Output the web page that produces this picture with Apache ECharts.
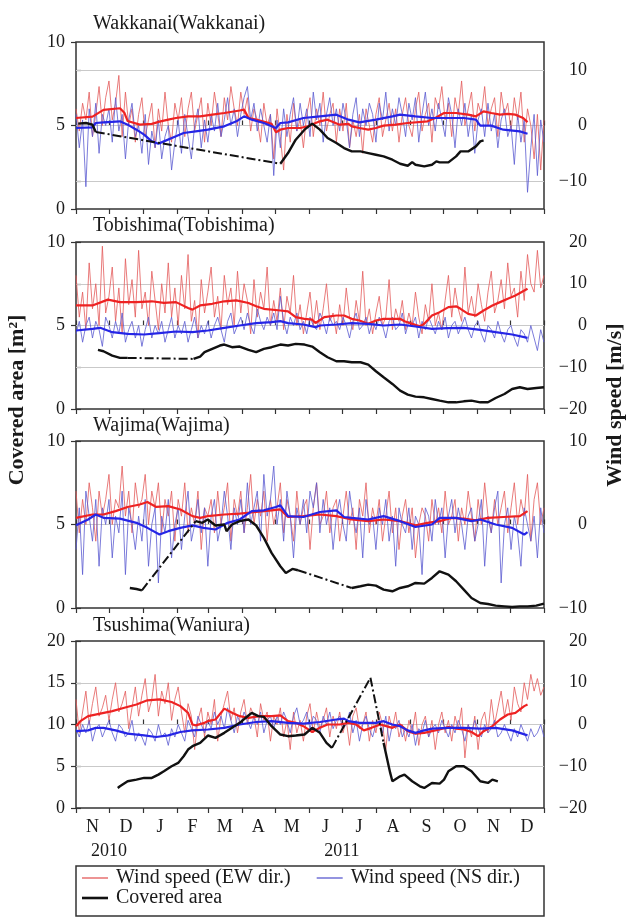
<!DOCTYPE html>
<html>
<head>
<meta charset="utf-8">
<script src="https://cdn.jsdelivr.net/npm/echarts@6/dist/echarts.min.js"></script>
<style>
html,body{margin:0;padding:0;background:#fff;}
#chart{width:627px;height:918px;}
</style>
</head>
<body>
<div id="chart"></div>
<script>
// ---------------- DATA ----------------
// day 0 = 2010-11-01, axis ends at day 426 = 2012-01-01
const monthStartDays = [0, 30, 61, 92, 120, 151, 181, 212, 242, 273, 304, 334, 365, 395, 426];
const monthLetters = ['N', 'D', 'J', 'F', 'M', 'A', 'M', 'J', 'J', 'A', 'S', 'O', 'N', 'D'];
const yearLabels = ['2010', '2011'];
const yearLabelDays = [30, 242];

const stationNames = ['Wakkanai(Wakkanai)', 'Tobishima(Tobishima)', 'Wajima(Wajima)', 'Tsushima(Waniura)'];
const legendNames = ['Wind speed (EW dir.)', 'Wind speed (NS dir.)', 'Covered area'];

const leftAxisMax = [10, 10, 10, 20];
const leftAxisInterval = 5;
const rightAxisRange = [[-15, 15], [-20, 20], [-10, 10], [-20, 20]];
const rightAxisTicks = [[-10, 0, 10], [-20, -10, 0, 10, 20], [-10, 0, 10], [-20, -10, 0, 10, 20]];
const gridLineValues = [[-10, 0, 10], [-10, 0, 10], [0], [-10, 0, 10]];

// daily wind samples, one value every DAILY_STEP days from day 0 (m/s)
const DAILY_STEP = 3;

const wakkanaiEWDaily = [3,-1,4,1,6,-2,2,7,0,5, 8,1,4,9,-2,6,0,3,-3,2, 5,-2,1,4,-4,3,-1,6,0,-3, 4,1,5,-2,3,6,-1,2,5,-3,
 4,0,6,2,-2,5,1,7,3,0, 6,2,5,-1,3,1,-3,4,0,2, -6,3,-2,-8,2,-3,4,-1,1,-4, 2,5,-2,3,0,6,-1,2,4,-3,
 3,-1,4,-4,1,-2,2,-5,3,0, -3,2,5,-2,1,4,-1,3,-3,2, 5,0,-2,3,6,-1,2,4,-3,5, 3,7,1,4,-2,5,2,8,0,3,
 6,-1,4,2,7,0,3,5,-2,6, 2,4,-1,5,1,6,-3,3,0,-6, 2,-8,1];
const wakkanaiNSDaily = [2,-4,1,-11,3,-2,4,-5,2,0, 3,-3,5,-1,2,-6,1,4,-2,0, -5,2,-7,-1,-4,1,-6,-2,0,-8, -3,1,-5,2,-2,-6,0,3,-4,1,
 -3,2,-1,4,-2,1,5,0,3,-2, 2,5,7,1,4,-1,3,0,-3,2, -9,1,-4,3,-2,2,5,-1,4,0, 3,-2,6,1,4,-3,2,5,0,3,
 -1,4,1,-4,2,5,-2,3,0,4, 2,-3,4,1,6,-1,3,0,5,2, -2,4,1,5,-3,2,6,0,3,-1, 4,1,-2,5,2,-4,3,0,4,-2,
 2,-5,1,3,-2,4,-1,2,-4,1, 3,-2,0,-7,2,-3,1,-12,-4,2, -9,1,-3];

const tobishimaEWDaily = [12,2,8,-1,15,4,10,0,19,3, 7,14,1,9,-2,16,5,11,2,18, 4,8,0,13,6,-1,10,3,15,2, 9,0,12,4,17,1,6,-3,11,3,
 8,14,2,7,-1,12,5,9,0,13, 3,10,6,-2,11,2,8,4,14,0, 6,1,9,-1,7,3,12,0,5,-2, 3,8,0,6,-1,4,10,1,3,-2,
 5,0,9,2,-1,6,1,13,0,4, -2,3,7,0,2,11,-1,4,1,6, -1,3,0,8,2,-2,5,1,10,0, 3,-1,6,12,2,9,4,1,14,3,
 7,2,10,5,1,8,13,3,6,11, 4,15,7,9,2,13,6,17,10,8, 18,9,12];
const tobishimaNSDaily = [-2,1,-4,0,2,-3,1,-1,-5,2, 0,-3,1,-2,3,-4,-1,1,-3,0, -5,-1,2,-3,0,-2,1,-4,-1,2, -3,0,-2,1,-4,-1,2,-3,0,-2,
 1,-3,0,2,-1,-4,1,3,-2,0, 2,-1,3,0,-2,4,1,-1,2,0, 3,-1,7,1,-2,2,0,3,-1,1, -2,2,0,-1,3,1,-2,2,0,1,
 -1,2,0,-3,1,3,-1,0,2,-2, 1,-1,2,0,-3,1,2,-1,0,3, -2,1,0,2,-3,1,-1,2,0,-2, 1,-1,2,-3,0,1,-2,0,2,-1,
 -3,0,1,-2,-4,0,-1,-3,1,-2, -4,-1,0,-3,-5,-1,-2,-4,0,-3, -6,-1,-4];

const wajimaEWDaily = [4,-1,3,0,5,2,-2,4,1,3, 6,0,3,2,7,1,4,-1,5,2, 3,6,0,4,2,5,-1,3,1,4, -2,3,1,5,-1,2,0,4,-3,2,
 1,3,-1,4,0,2,5,-2,3,1, 4,-1,2,6,0,3,1,4,-2,3, 0,2,5,-1,3,1,-2,4,0,2, 3,-3,2,5,0,1,4,-1,2,3,
 -2,1,4,0,2,-3,3,1,5,-1, 2,0,3,-2,1,4,-1,2,-3,1, 3,-1,2,-4,0,2,1,-2,3,0, 2,-1,4,0,1,3,-2,2,0,4,
 1,-2,3,0,5,1,-1,3,0,2, 4,-1,2,5,0,3,1,6,-2,3, 5,0,2];
const wajimaNSDaily = [-3,2,-6,4,1,-2,3,-5,2,0, 3,-4,1,-1,4,-6,2,0,-3,1, -2,3,-5,0,2,-7,1,-1,3,-4, 0,2,-3,1,4,-2,0,3,-1,2,
 -5,1,3,-2,0,4,1,-3,2,0, 3,-1,5,0,2,4,-2,6,1,3, 7,0,3,-2,4,1,-4,2,0,3, -1,4,2,5,-1,3,0,2,-3,1,
 3,0,-2,4,1,-1,2,-4,3,0, 1,-3,2,0,3,-2,1,-5,2,0, -1,2,-3,1,0,-6,2,1,-2,3, 0,2,-4,1,3,-1,2,0,-3,1,
 2,-2,0,3,-5,1,-1,2,4,-7, 0,2,-3,1,-1,-5,2,0,-2,1, -4,2,-1];

const tsushimaEWDaily = [6,-2,3,8,0,5,9,2,4,7, 1,6,10,3,5,8,-1,4,9,2, 7,11,3,6,12,2,8,5,10,1, 6,9,3,-2,5,2,-6,1,4,-3,
 3,0,6,-4,2,5,8,1,4,-2, 3,6,0,4,2,-3,5,1,3,-4, 2,0,4,-3,1,-6,3,-2,1,-4, 2,5,-2,3,-1,1,4,-3,2,-1,
 3,-2,1,-5,2,4,-1,0,3,-4, 1,-2,3,0,-6,2,-1,3,-3,0, -4,1,-2,3,-5,0,2,-3,1,-6, 0,3,-2,1,-4,2,-1,4,-8,0,
 -3,2,-6,1,3,-2,6,0,4,8, 2,6,1,9,5,3,10,6,12,8, 11,7,9];
const tsushimaNSDaily = [-1,-3,0,-2,1,-4,-1,0,-3,-1, 1,-2,-4,0,-1,-3,-2,1,-4,-2, -3,-5,-1,-2,-4,0,-3,-2,-5,-1, -3,0,-2,-4,1,-1,-3,2,0,-2,
 1,-1,3,0,2,-1,4,1,-2,2, 0,3,1,-1,2,0,3,-2,1,2, -1,2,0,3,1,-2,2,4,0,1, 3,-1,2,1,-2,2,0,3,-1,1,
 2,-1,0,3,-2,1,-4,0,2,-1, -3,0,1,-2,2,-4,0,-1,1,-3, -1,-3,0,-5,-1,-2,1,-3,-1,0, -2,1,-1,-3,0,-2,1,-1,-4,0,
 -2,1,-1,-3,0,-2,-1,1,-3,-2, 0,-2,-4,-1,-3,0,-2,-4,-1,-3, -2,0,-3];

// running means [day, m/s]
const wakkanaiEWMean = [[0,1.35],[15,1.6],[25,2.8],[40,3.1],[44,2.3],[47,0.8],[58,0.15],[69,0.3],[76,0.7],[84,1.05],[91,1.35],[102,1.65],[113,1.65],[124,1.95],[135,2.25],[149,2.7],[153,2.85],[157,1.35],[164,1.05],[178,0.3],[182,-1.2],[186,-0.75],[193,-0.45],[204,-0.45],[211,-0.15],[222,0.75],[229,1.05],[240,0.15],[248,0.3],[251,-0.15],[258,-0.45],[266,-0.75],[273,-0.45],[280,-0.03],[291,0.15],[302,0.45],[320,0.75],[327,1.35],[335,2.25],[346,2.25],[357,1.95],[364,1.65],[371,2.55],[378,2.25],[386,1.95],[393,2.1],[400,1.95],[407,1.35],[411,0.6]];
const wakkanaiNSMean = [[0,-0.45],[15,-0.33],[18,0.45],[25,0.57],[40,0.75],[47,0.15],[55,-0.75],[62,-1.65],[69,-2.85],[75,-3.27],[80,-2.85],[91,-1.95],[98,-1.35],[109,-1.05],[120,-0.75],[135,-0.15],[146,0.75],[153,1.65],[160,1.05],[171,0.45],[182,-0.45],[186,0.45],[193,0.57],[207,1.35],[222,1.65],[237,1.95],[248,1.05],[258,0.57],[273,1.05],[288,1.65],[295,1.95],[309,1.65],[324,1.35],[338,1.35],[353,1.35],[364,1.05],[368,-0.03],[378,-0.03],[389,-0.75],[404,-1.05],[411,-1.47]];

const tobishimaEWMean = [[0,4.8],[15,4.8],[29,6.2],[40,5.6],[55,5.6],[69,5.8],[80,5.4],[91,5.6],[102,4.2],[106,3.8],[113,4.8],[124,5.2],[135,5.8],[146,6.0],[157,5.4],[164,4.6],[171,4.0],[186,3.6],[193,3.4],[200,2.0],[208,1.6],[215,1.4],[218,0.6],[226,2.0],[237,2.4],[244,2.4],[251,1.6],[258,1.2],[266,0.4],[273,1.2],[280,1.6],[295,1.6],[299,1.0],[306,0.4],[313,-0.2],[317,0.4],[324,2.4],[331,3.2],[339,4.4],[346,4.6],[350,4.0],[357,2.8],[364,2.4],[371,3.6],[379,4.8],[386,5.6],[393,6.4],[400,7.2],[411,8.8]];
const tobishimaNSMean = [[0,-1.2],[15,-0.8],[22,-0.56],[33,-1.6],[47,-2.0],[62,-2.16],[76,-1.84],[91,-1.44],[106,-1.6],[120,-1.2],[135,-0.56],[149,0.0],[164,0.56],[178,0.8],[186,1.04],[193,0.56],[207,0.24],[218,-0.4],[222,0.0],[237,0.24],[251,0.56],[266,0.4],[280,0.0],[295,0.24],[309,-0.24],[324,-0.8],[338,-0.64],[353,-0.56],[368,-1.04],[382,-1.6],[397,-2.16],[411,-2.96]];

const wajimaEWMean = [[0,0.8],[15,1.2],[25,1.2],[36,1.6],[47,2.1],[58,2.4],[65,2.7],[73,2.1],[84,2.2],[95,1.8],[106,1.0],[113,0.8],[120,1.0],[135,1.2],[149,1.3],[164,1.5],[178,1.7],[186,1.8],[193,0.9],[207,1.0],[222,1.2],[237,1.0],[251,0.6],[266,0.4],[280,0.6],[295,0.4],[309,-0.1],[320,0.2],[331,0.4],[342,0.8],[353,0.7],[364,0.5],[375,0.8],[389,0.9],[404,1.0],[411,1.6]];
const wajimaNSMean = [[0,-0.1],[11,0.6],[18,1.2],[25,0.8],[40,0.7],[55,0.2],[65,-0.4],[76,-1.2],[84,-0.8],[95,-0.4],[106,-0.1],[116,-0.4],[127,-0.6],[138,0.2],[149,0.6],[160,1.6],[171,1.7],[182,2.1],[186,2.3],[193,1.0],[207,0.9],[222,1.5],[237,1.7],[244,0.9],[251,0.8],[266,0.6],[280,1.0],[295,0.4],[309,-0.3],[324,0.0],[331,0.8],[346,0.8],[360,0.4],[368,0.6],[382,0.0],[397,-0.4],[408,-1.2],[411,-0.9]];

const tsushimaEWMean = [[0,-0.4],[4,0.8],[11,2.0],[22,2.6],[33,3.2],[44,4.0],[55,4.8],[65,5.8],[76,6.0],[87,5.4],[95,4.4],[102,2.8],[106,0.0],[109,-0.2],[117,0.4],[120,0.8],[127,1.2],[135,3.8],[142,2.8],[149,2.0],[157,1.6],[167,2.0],[178,2.0],[186,2.2],[193,0.8],[200,0.4],[207,-0.4],[215,-1.8],[222,-0.8],[229,0.0],[240,0.0],[248,0.4],[255,0.0],[262,-1.4],[269,-0.8],[277,0.0],[288,-0.8],[295,0.0],[302,-1.6],[309,-2.2],[317,-2.0],[324,-1.6],[331,-1.2],[339,-0.6],[346,-1.0],[353,-1.2],[360,-1.8],[366,-2.8],[371,-1.6],[379,-0.4],[386,1.2],[393,2.4],[400,2.8],[408,4.4],[411,4.8]];
const tsushimaNSMean = [[0,-1.6],[11,-1.4],[18,-0.8],[25,-0.8],[36,-1.4],[47,-2.2],[62,-2.6],[73,-3.0],[84,-2.6],[95,-1.8],[106,-1.4],[120,-1.2],[135,-0.8],[149,0.0],[164,0.6],[178,0.8],[193,0.4],[207,0.2],[222,0.6],[237,1.2],[244,1.4],[248,0.8],[258,0.4],[273,0.4],[280,0.8],[288,0.0],[295,-0.4],[302,-1.4],[309,-2.0],[317,-1.4],[324,-1.0],[339,-0.8],[353,-0.8],[368,-1.0],[382,-0.8],[397,-1.4],[404,-2.0],[411,-2.6]];

// covered area [day, m^2]; null = no observation (bridged with dash-dot line)
const wakkanaiArea = [[2,5.11],[9,5.15],[15,5.05],[18,4.61],null,[186,2.71],[193,3.35],[200,4.15],[208,4.75],[215,5.11],[222,4.75],[229,4.25],[237,3.95],[244,3.65],[251,3.45],[259,3.45],[266,3.35],[273,3.25],[280,3.15],[288,2.95],[295,2.71],[302,2.59],[306,2.81],[309,2.65],[317,2.55],[324,2.65],[328,2.85],[331,2.79],[339,2.79],[346,3.15],[350,3.45],[357,3.45],[364,3.75],[368,4.05],[371,4.11]];
const tobishimaArea = [[20,3.54],[25,3.46],[33,3.2],[40,3.06],[47,3.06],null,[107,3.0],[113,3.14],[117,3.4],[124,3.6],[131,3.8],[135,3.86],[142,3.7],[149,3.74],[157,3.54],[164,3.4],[171,3.6],[178,3.7],[186,3.86],[193,3.8],[200,3.9],[208,3.86],[215,3.74],[222,3.4],[229,3.1],[237,2.86],[244,2.86],[251,2.8],[259,2.8],[266,2.66],[273,2.26],[280,1.9],[288,1.5],[295,1.1],[302,0.86],[309,0.74],[317,0.7],[324,0.6],[331,0.5],[339,0.4],[346,0.4],[353,0.46],[360,0.5],[368,0.4],[375,0.4],[382,0.66],[390,0.9],[397,1.2],[404,1.3],[411,1.2],[419,1.26],[426,1.3]];
const wajimaArea = [[49,1.2],[55,1.14],[60,1.06],null,[109,5.2],[115,5.1],[120,5.3],[127,4.94],[135,5.0],[137,4.6],[142,5.0],[149,5.2],[157,5.3],[164,4.94],[171,4.2],[178,3.3],[186,2.5],[191,2.1],[197,2.34],[202,2.26],null,[251,1.2],[259,1.3],[266,1.4],[273,1.34],[280,1.1],[288,1.0],[295,1.2],[302,1.3],[309,1.5],[317,1.46],[324,1.8],[331,2.2],[339,2.0],[346,1.6],[353,1.1],[360,0.6],[368,0.3],[375,0.24],[382,0.14],[390,0.1],[397,0.06],[404,0.1],[411,0.1],[419,0.14],[426,0.26]];
const tsushimaArea = [[38,2.4],[40,2.6],[47,3.2],[55,3.4],[62,3.6],[69,3.6],[75,4.0],[80,4.4],[87,5.0],[93,5.4],[98,6.2],[102,7.0],[106,7.4],[113,7.8],[120,8.68],[127,8.4],[135,9.0],[142,9.6],[149,10.2],[157,11.08],[160,11.4],[166,11.0],[171,10.92],[178,9.8],[186,8.8],[193,8.6],[200,8.68],[208,8.8],[215,9.6],[222,9.0],[228,7.8],[233,7.2],null,[268,15.6],null,[280,7.8],[286,4.2],[288,3.2],[295,3.8],[299,4.0],[306,3.2],[313,2.6],[317,2.4],[324,3.0],[331,2.92],[335,3.4],[339,4.4],[346,5.0],[353,5.0],[360,4.4],[368,3.2],[375,3.0],[379,3.4],[384,3.2]];

// ---------------- STYLE / LAYOUT ----------------
const FONT = '"Liberation Serif", "Times New Roman", serif';
const TXT = '#1a1a1a';
const FRAME = '#333';
const THIN_RED = '#e35a5a', THIN_BLUE = '#5a5ad0';
const RED = '#ee2222', BLUE = '#2525e6', BLACK = '#111';
const GRID_TOPS = [42, 242, 441, 641];
const GRID_H = 167, GRID_L = 76, GRID_W = 468;
const TITLE_CENTERS = [24, 226, 426, 626];

const panels = [
  {ew: wakkanaiEWDaily, ns: wakkanaiNSDaily, ewm: wakkanaiEWMean, nsm: wakkanaiNSMean, area: wakkanaiArea},
  {ew: tobishimaEWDaily, ns: tobishimaNSDaily, ewm: tobishimaEWMean, nsm: tobishimaNSMean, area: tobishimaArea},
  {ew: wajimaEWDaily, ns: wajimaNSDaily, ewm: wajimaEWMean, nsm: wajimaNSMean, area: wajimaArea},
  {ew: tsushimaEWDaily, ns: tsushimaNSDaily, ewm: tsushimaEWMean, nsm: tsushimaNSMean, area: tsushimaArea}
];

function dailyPairs(arr) { return arr.map((v, i) => [i * DAILY_STEP, v]); }
function solidPairs(arr) {
  return arr.map((p, i) => p ? p : [(arr[i - 1][0] + arr[i + 1][0]) / 2, '-']);
}
function gapPairs(arr) {
  const out = [];
  arr.forEach((p, i) => {
    if (!p) { out.push(arr[i - 1], arr[i + 1], [(arr[i - 1][0] + arr[i + 1][0]) / 2, '-']); }
  });
  return out;
}
const minusFmt = v => (v < 0 ? '\u2212' + Math.abs(v) : String(v));

const monthLabelDays = monthLetters.map((m, i) => (monthStartDays[i] + monthStartDays[i + 1]) / 2);
const monthLabelMap = {};
monthLabelDays.forEach((d, i) => { monthLabelMap[d] = monthLetters[i]; });

const grids = [], xAxes = [], yAxes = [], series = [], titles = [];
panels.forEach((p, k) => {
  grids.push({left: GRID_L, top: GRID_TOPS[k], width: GRID_W, height: GRID_H, show: true,
    borderColor: FRAME, borderWidth: 1.5, backgroundColor: 'transparent', containLabel: false});
  const isLast = k === panels.length - 1;
  const tickCommon = {show: true, customValues: monthStartDays, length: 5, inside: false, lineStyle: {color: FRAME, width: 1.2}};
  xAxes.push({type: 'value', gridIndex: k, position: 'bottom', min: 0, max: 426,
    axisLine: {show: false}, splitLine: {show: false}, axisTick: tickCommon,
    axisLabel: isLast ? {show: true, customValues: monthLabelDays, formatter: v => monthLabelMap[v] || '',
      fontFamily: FONT, fontSize: 18, color: TXT, margin: 10} : {show: false}});
  xAxes.push({type: 'value', gridIndex: k, position: 'top', min: 0, max: 426,
    axisLine: {show: false}, splitLine: {show: false}, axisTick: tickCommon, axisLabel: {show: false}});
  yAxes.push({type: 'value', gridIndex: k, position: 'left', min: 0, max: leftAxisMax[k], interval: leftAxisInterval,
    axisLine: {show: false}, splitLine: {show: false},
    axisTick: {show: true, length: 5, lineStyle: {color: FRAME, width: 1.2}},
    axisLabel: {fontFamily: FONT, fontSize: 18, color: TXT, margin: 11}});
  yAxes.push({type: 'value', gridIndex: k, position: 'right', min: rightAxisRange[k][0], max: rightAxisRange[k][1],
    axisLine: {show: false}, splitLine: {show: false},
    axisTick: {show: true, customValues: rightAxisTicks[k], length: 5, lineStyle: {color: FRAME, width: 1.2}},
    axisLabel: {customValues: rightAxisTicks[k], formatter: minusFmt, fontFamily: FONT, fontSize: 18, color: TXT,
      margin: 43, align: 'right'}});

  const xi = 2 * k, yl = 2 * k, yr = 2 * k + 1;
  series.push({name: legendNames[0], type: 'line', xAxisIndex: xi, yAxisIndex: yr, data: dailyPairs(p.ew),
    symbol: 'none', lineStyle: {color: THIN_RED, width: 0.8}, itemStyle: {color: THIN_RED}, z: 2, silent: true,
    markLine: {silent: true, z: 1, symbol: ['none', 'none'], label: {show: false},
      lineStyle: {color: '#c9c9c9', width: 1, type: 'solid'}, emphasis: {disabled: true},
      data: gridLineValues[k].map(v => ({yAxis: v}))}});
  series.push({name: legendNames[1], type: 'line', xAxisIndex: xi, yAxisIndex: yr, data: dailyPairs(p.ns),
    symbol: 'none', lineStyle: {color: THIN_BLUE, width: 0.8}, itemStyle: {color: THIN_BLUE}, z: 2, silent: true});
  series.push({name: 'EW mean', type: 'line', xAxisIndex: xi, yAxisIndex: yr, data: p.ewm,
    symbol: 'none', lineStyle: {color: RED, width: 2.2}, z: 3, silent: true});
  series.push({name: 'NS mean', type: 'line', xAxisIndex: xi, yAxisIndex: yr, data: p.nsm,
    symbol: 'none', lineStyle: {color: BLUE, width: 2.2}, z: 3, silent: true});
  series.push({name: legendNames[2], type: 'line', xAxisIndex: xi, yAxisIndex: yl, data: solidPairs(p.area),
    symbol: 'none', connectNulls: false, lineStyle: {color: BLACK, width: 2.4}, itemStyle: {color: BLACK}, z: 4, silent: true});
  series.push({name: 'Covered area (gap)', type: 'line', xAxisIndex: xi, yAxisIndex: yl, data: gapPairs(p.area),
    symbol: 'none', connectNulls: false, lineStyle: {color: BLACK, width: 2, type: [9, 3, 2, 3]}, z: 4, silent: true});

  titles.push({text: stationNames[k], left: 93, top: TITLE_CENTERS[k] - 10, padding: 0,
    textStyle: {fontFamily: FONT, fontSize: 20, fontWeight: 'normal', color: TXT, lineHeight: 20}});
});

const legendText = {fontFamily: FONT, fontSize: 20, color: TXT, lineHeight: 20, padding: [0, 0, 0, 3]};
const option = {
  animation: false,
  backgroundColor: '#fff',
  title: titles,
  grid: grids,
  xAxis: xAxes,
  yAxis: yAxes,
  series: series,
  legend: [
    {data: [{name: legendNames[0], icon: 'rect', itemStyle: {color: THIN_RED}},
            {name: legendNames[1], icon: 'rect', itemStyle: {color: THIN_BLUE}}],
      left: 82, top: 868, padding: 0, itemWidth: 26, itemHeight: 1.3, itemGap: 26, selectedMode: false, textStyle: legendText},
    {data: [{name: legendNames[2], icon: 'rect', itemStyle: {color: BLACK}}],
      left: 82, top: 888, padding: 0, itemWidth: 26, itemHeight: 2.6, itemGap: 26, selectedMode: false, textStyle: legendText}
  ]
};

const chart = echarts.init(document.getElementById('chart'), null, {renderer: 'canvas'});
chart.setOption(option);

const graphics = [
  {type: 'rect', shape: {x: 76, y: 866, width: 468, height: 50}, style: {fill: 'none', stroke: FRAME, lineWidth: 1.5}, silent: true},
  {type: 'text', x: 17, y: 400, rotation: Math.PI / 2, silent: true,
    style: {text: 'Covered area [m\u00b2]', font: 'bold 22px ' + FONT, fill: TXT, align: 'center', verticalAlign: 'middle'}},
  {type: 'text', x: 615, y: 405, rotation: Math.PI / 2, silent: true,
    style: {text: 'Wind speed [m/s]', font: 'bold 22px ' + FONT, fill: TXT, align: 'center', verticalAlign: 'middle'}}
];
yearLabels.forEach((t, i) => {
  const px = chart.convertToPixel({xAxisIndex: 6}, yearLabelDays[i]);
  graphics.push({type: 'text', x: px, y: 851, silent: true,
    style: {text: t, font: '18px ' + FONT, fill: TXT, align: 'center', verticalAlign: 'middle'}});
});
chart.setOption({graphic: graphics});
</script>
</body>
</html>
